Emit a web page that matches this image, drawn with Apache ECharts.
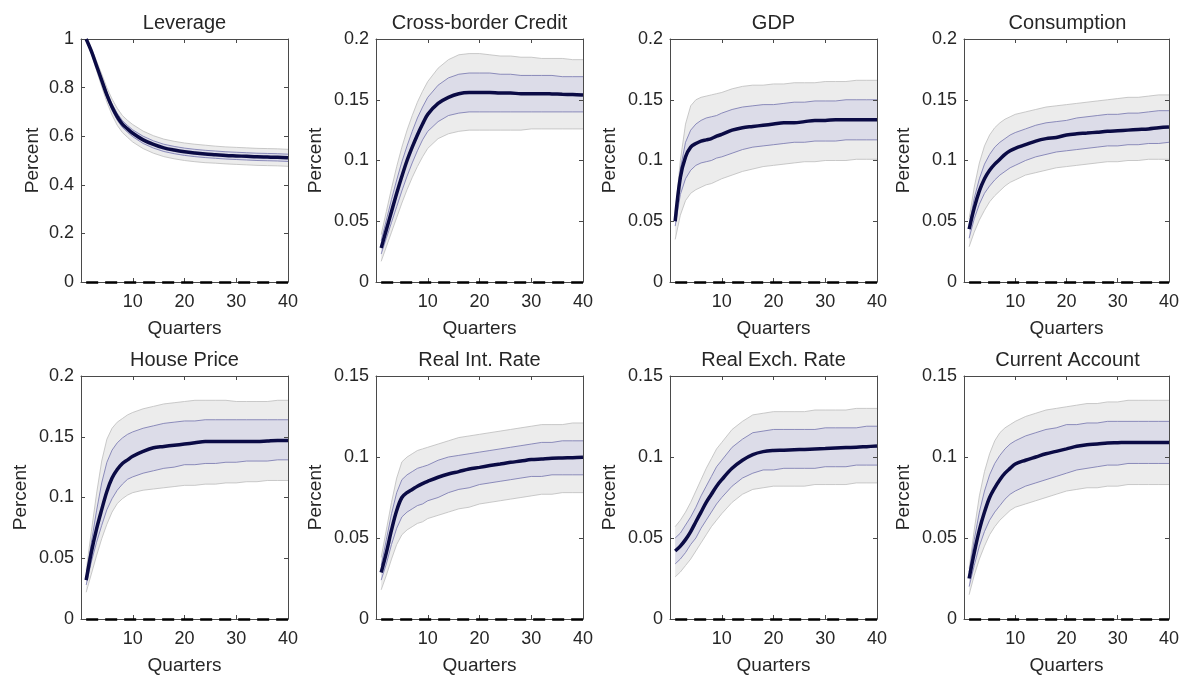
<!DOCTYPE html>
<html>
<head>
<meta charset="utf-8">
<title>Impulse responses</title>
<script src="https://cdn.jsdelivr.net/npm/echarts@6/dist/echarts.min.js"></script>
<style>
  html, body { margin: 0; padding: 0; background: #fff; }
  #main { width: 1182px; height: 679px; }
</style>
</head>
<body>
<div id="main"></div>
<script>
// horizon (quarters) at which the responses were read
var quarters = [1, 2, 3, 4, 5, 6, 7, 8, 9, 10, 12, 14, 16, 18, 20, 22, 24, 26, 28, 30, 32, 34, 36, 38, 40];

var titles = ['Leverage', 'Cross-border Credit', 'GDP', 'Consumption',
              'House Price', 'Real Int. Rate', 'Real Exch. Rate', 'Current Account'];
var yMax = [1, 0.2, 0.2, 0.2, 0.2, 0.15, 0.15, 0.15];
var yStep = [0.2, 0.05, 0.05, 0.05, 0.05, 0.05, 0.05, 0.05];
var xTicks = [0, 10, 20, 30, 40];

// Leverage
var levMed = [1.000, 0.950, 0.890, 0.830, 0.770, 0.720, 0.680, 0.650, 0.630, 0.612, 0.585, 0.566, 0.552, 0.543, 0.536, 0.531, 0.527, 0.524, 0.521, 0.519, 0.517, 0.515, 0.514, 0.513, 0.511];
var levOutHi = [1.000, 0.962, 0.910, 0.856, 0.800, 0.753, 0.715, 0.685, 0.665, 0.648, 0.621, 0.602, 0.588, 0.579, 0.572, 0.567, 0.563, 0.559, 0.556, 0.554, 0.552, 0.550, 0.549, 0.548, 0.546];
var levOutLo = [0.995, 0.938, 0.870, 0.804, 0.740, 0.687, 0.645, 0.615, 0.595, 0.576, 0.549, 0.530, 0.516, 0.507, 0.500, 0.495, 0.491, 0.489, 0.486, 0.484, 0.482, 0.480, 0.479, 0.478, 0.476];
var levInHi = [1.000, 0.955, 0.898, 0.840, 0.782, 0.733, 0.694, 0.664, 0.644, 0.626, 0.600, 0.581, 0.567, 0.558, 0.551, 0.546, 0.542, 0.539, 0.536, 0.534, 0.532, 0.530, 0.529, 0.528, 0.526];
var levInLo = [0.998, 0.945, 0.882, 0.820, 0.758, 0.707, 0.666, 0.636, 0.616, 0.598, 0.570, 0.551, 0.537, 0.528, 0.521, 0.516, 0.512, 0.509, 0.506, 0.504, 0.502, 0.500, 0.499, 0.498, 0.496];

// Cross-border Credit
var cbcMed = [0.028, 0.043, 0.058, 0.073, 0.087, 0.100, 0.111, 0.121, 0.130, 0.138, 0.147, 0.152, 0.155, 0.156, 0.156, 0.156, 0.1555, 0.1555, 0.155, 0.155, 0.155, 0.1548, 0.1545, 0.1543, 0.154];
var cbcOutHi = [0.039, 0.058, 0.077, 0.095, 0.111, 0.125, 0.137, 0.148, 0.157, 0.165, 0.176, 0.183, 0.187, 0.188, 0.188, 0.187, 0.186, 0.186, 0.185, 0.185, 0.184, 0.184, 0.184, 0.183, 0.183];
var cbcOutLo = [0.017, 0.029, 0.041, 0.053, 0.065, 0.076, 0.086, 0.095, 0.103, 0.110, 0.118, 0.122, 0.124, 0.125, 0.125, 0.125, 0.125, 0.125, 0.125, 0.126, 0.126, 0.126, 0.126, 0.126, 0.126];
var cbcInHi = [0.034, 0.051, 0.068, 0.084, 0.099, 0.112, 0.124, 0.135, 0.144, 0.152, 0.162, 0.168, 0.171, 0.172, 0.172, 0.172, 0.171, 0.171, 0.170, 0.170, 0.170, 0.170, 0.169, 0.169, 0.169];
var cbcInLo = [0.023, 0.036, 0.049, 0.062, 0.075, 0.087, 0.098, 0.108, 0.117, 0.124, 0.132, 0.137, 0.139, 0.140, 0.140, 0.140, 0.140, 0.140, 0.140, 0.140, 0.140, 0.140, 0.140, 0.140, 0.140];

// GDP
var gdpMed = [0.050, 0.086, 0.103, 0.111, 0.114, 0.116, 0.117, 0.118, 0.120, 0.1215, 0.125, 0.127, 0.128, 0.129, 0.130, 0.131, 0.131, 0.132, 0.133, 0.133, 0.1335, 0.1335, 0.1336, 0.1336, 0.1336];
var gdpOutHi = [0.057, 0.100, 0.130, 0.145, 0.150, 0.152, 0.153, 0.154, 0.155, 0.156, 0.159, 0.161, 0.162, 0.162, 0.163, 0.163, 0.164, 0.164, 0.164, 0.165, 0.165, 0.165, 0.166, 0.166, 0.166];
var gdpOutLo = [0.035, 0.055, 0.067, 0.073, 0.076, 0.078, 0.080, 0.081, 0.083, 0.085, 0.088, 0.091, 0.093, 0.095, 0.096, 0.097, 0.098, 0.099, 0.099, 0.100, 0.100, 0.100, 0.101, 0.101, 0.101];
var gdpInHi = [0.053, 0.093, 0.115, 0.125, 0.130, 0.133, 0.135, 0.136, 0.137, 0.139, 0.142, 0.144, 0.145, 0.146, 0.146, 0.147, 0.148, 0.148, 0.149, 0.149, 0.149, 0.150, 0.150, 0.150, 0.150];
var gdpInLo = [0.046, 0.072, 0.085, 0.092, 0.096, 0.098, 0.099, 0.100, 0.102, 0.103, 0.106, 0.109, 0.111, 0.112, 0.113, 0.114, 0.115, 0.115, 0.116, 0.116, 0.116, 0.117, 0.117, 0.117, 0.117];

// Consumption
var conMed = [0.0435, 0.061, 0.075, 0.085, 0.092, 0.097, 0.101, 0.105, 0.108, 0.110, 0.113, 0.116, 0.118, 0.119, 0.121, 0.122, 0.1226, 0.1233, 0.124, 0.1245, 0.125, 0.1255, 0.126, 0.127, 0.1275];
var conOutHi = [0.052, 0.078, 0.098, 0.112, 0.121, 0.127, 0.131, 0.134, 0.136, 0.138, 0.140, 0.142, 0.144, 0.145, 0.146, 0.147, 0.148, 0.149, 0.150, 0.151, 0.152, 0.152, 0.153, 0.154, 0.154];
var conOutLo = [0.029, 0.041, 0.051, 0.059, 0.066, 0.071, 0.075, 0.079, 0.082, 0.084, 0.088, 0.090, 0.092, 0.094, 0.095, 0.096, 0.097, 0.098, 0.099, 0.099, 0.100, 0.100, 0.101, 0.101, 0.101];
var conInHi = [0.047, 0.069, 0.085, 0.097, 0.105, 0.111, 0.115, 0.118, 0.121, 0.123, 0.126, 0.129, 0.131, 0.132, 0.133, 0.135, 0.136, 0.137, 0.138, 0.138, 0.139, 0.139, 0.140, 0.141, 0.141];
var conInLo = [0.036, 0.052, 0.064, 0.073, 0.079, 0.084, 0.088, 0.091, 0.094, 0.096, 0.100, 0.103, 0.105, 0.107, 0.108, 0.109, 0.110, 0.111, 0.112, 0.112, 0.113, 0.113, 0.114, 0.114, 0.115];

// House Price
var hpMed = [0.032, 0.055, 0.074, 0.090, 0.105, 0.116, 0.123, 0.128, 0.131, 0.134, 0.138, 0.141, 0.142, 0.143, 0.144, 0.145, 0.146, 0.146, 0.146, 0.146, 0.146, 0.146, 0.1465, 0.147, 0.147];
var hpOutHi = [0.040, 0.072, 0.103, 0.130, 0.148, 0.157, 0.162, 0.165, 0.168, 0.170, 0.173, 0.175, 0.177, 0.178, 0.179, 0.180, 0.180, 0.180, 0.180, 0.179, 0.179, 0.179, 0.179, 0.180, 0.180];
var hpOutLo = [0.022, 0.037, 0.052, 0.066, 0.078, 0.088, 0.095, 0.099, 0.102, 0.104, 0.106, 0.107, 0.108, 0.109, 0.110, 0.110, 0.111, 0.111, 0.112, 0.112, 0.113, 0.113, 0.114, 0.114, 0.114];
var hpInHi = [0.035, 0.063, 0.089, 0.112, 0.129, 0.139, 0.145, 0.149, 0.152, 0.154, 0.157, 0.159, 0.161, 0.162, 0.163, 0.163, 0.164, 0.164, 0.164, 0.164, 0.164, 0.164, 0.164, 0.164, 0.164];
var hpInLo = [0.028, 0.047, 0.063, 0.077, 0.090, 0.099, 0.106, 0.111, 0.115, 0.117, 0.120, 0.122, 0.124, 0.125, 0.127, 0.127, 0.128, 0.128, 0.129, 0.129, 0.130, 0.130, 0.130, 0.131, 0.131];

// Real Int. Rate
var rirMed = [0.0287, 0.041, 0.055, 0.067, 0.075, 0.078, 0.080, 0.082, 0.0836, 0.085, 0.0875, 0.0895, 0.091, 0.0926, 0.0936, 0.0947, 0.0957, 0.0967, 0.0975, 0.0984, 0.0988, 0.0992, 0.0994, 0.0996, 0.0998];
var rirOutHi = [0.038, 0.055, 0.072, 0.087, 0.097, 0.100, 0.102, 0.104, 0.105, 0.106, 0.108, 0.110, 0.112, 0.113, 0.114, 0.115, 0.116, 0.117, 0.118, 0.119, 0.120, 0.120, 0.120, 0.121, 0.121];
var rirOutLo = [0.018, 0.027, 0.037, 0.046, 0.052, 0.055, 0.057, 0.059, 0.060, 0.062, 0.064, 0.066, 0.068, 0.069, 0.071, 0.072, 0.073, 0.074, 0.075, 0.076, 0.077, 0.077, 0.078, 0.078, 0.078];
var rirInHi = [0.033, 0.049, 0.065, 0.078, 0.086, 0.089, 0.091, 0.093, 0.094, 0.095, 0.098, 0.100, 0.101, 0.102, 0.103, 0.104, 0.105, 0.106, 0.107, 0.108, 0.109, 0.109, 0.110, 0.110, 0.110];
var rirInLo = [0.024, 0.034, 0.046, 0.056, 0.063, 0.066, 0.068, 0.070, 0.071, 0.073, 0.075, 0.078, 0.080, 0.081, 0.083, 0.084, 0.085, 0.086, 0.087, 0.088, 0.088, 0.089, 0.089, 0.089, 0.089];

// Real Exch. Rate
var rerMed = [0.042, 0.045, 0.049, 0.054, 0.060, 0.066, 0.072, 0.077, 0.082, 0.086, 0.093, 0.098, 0.1015, 0.1033, 0.104, 0.1042, 0.1045, 0.1047, 0.105, 0.1052, 0.1055, 0.1058, 0.106, 0.1064, 0.1068];
var rerOutHi = [0.057, 0.061, 0.066, 0.072, 0.079, 0.086, 0.093, 0.099, 0.105, 0.109, 0.117, 0.122, 0.126, 0.127, 0.128, 0.128, 0.128, 0.128, 0.129, 0.129, 0.129, 0.129, 0.130, 0.130, 0.130];
var rerOutLo = [0.026, 0.029, 0.033, 0.037, 0.042, 0.047, 0.052, 0.057, 0.061, 0.065, 0.072, 0.077, 0.080, 0.081, 0.082, 0.082, 0.082, 0.082, 0.083, 0.083, 0.083, 0.083, 0.084, 0.084, 0.084];
var rerInHi = [0.050, 0.053, 0.058, 0.063, 0.069, 0.076, 0.082, 0.088, 0.094, 0.098, 0.106, 0.111, 0.115, 0.116, 0.117, 0.117, 0.117, 0.117, 0.117, 0.118, 0.118, 0.118, 0.118, 0.119, 0.119];
var rerInLo = [0.034, 0.037, 0.041, 0.046, 0.050, 0.056, 0.061, 0.066, 0.071, 0.075, 0.082, 0.087, 0.090, 0.092, 0.092, 0.093, 0.093, 0.093, 0.093, 0.094, 0.094, 0.094, 0.095, 0.095, 0.095];

// Current Account
var caMed = [0.025, 0.041, 0.055, 0.066, 0.075, 0.081, 0.086, 0.090, 0.093, 0.0957, 0.098, 0.100, 0.102, 0.1035, 0.105, 0.1066, 0.1076, 0.108, 0.1086, 0.1088, 0.109, 0.109, 0.109, 0.109, 0.109];
var caOutHi = [0.031, 0.055, 0.076, 0.091, 0.102, 0.110, 0.115, 0.118, 0.120, 0.122, 0.125, 0.127, 0.129, 0.130, 0.131, 0.132, 0.133, 0.133, 0.134, 0.134, 0.135, 0.135, 0.135, 0.135, 0.135];
var caOutLo = [0.015, 0.027, 0.037, 0.045, 0.052, 0.057, 0.061, 0.064, 0.067, 0.069, 0.071, 0.073, 0.075, 0.077, 0.079, 0.080, 0.081, 0.081, 0.082, 0.082, 0.083, 0.083, 0.083, 0.083, 0.083];
var caInHi = [0.029, 0.049, 0.066, 0.079, 0.089, 0.096, 0.101, 0.105, 0.108, 0.110, 0.113, 0.115, 0.117, 0.118, 0.120, 0.120, 0.121, 0.121, 0.122, 0.122, 0.122, 0.122, 0.122, 0.122, 0.122];
var caInLo = [0.020, 0.033, 0.045, 0.054, 0.061, 0.066, 0.070, 0.074, 0.077, 0.079, 0.082, 0.084, 0.086, 0.088, 0.090, 0.092, 0.093, 0.094, 0.095, 0.095, 0.096, 0.096, 0.096, 0.096, 0.096];

var panels = [
    { med: levMed, outHi: levOutHi, outLo: levOutLo, inHi: levInHi, inLo: levInLo },
    { med: cbcMed, outHi: cbcOutHi, outLo: cbcOutLo, inHi: cbcInHi, inLo: cbcInLo },
    { med: gdpMed, outHi: gdpOutHi, outLo: gdpOutLo, inHi: gdpInHi, inLo: gdpInLo },
    { med: conMed, outHi: conOutHi, outLo: conOutLo, inHi: conInHi, inLo: conInLo },
    { med: hpMed, outHi: hpOutHi, outLo: hpOutLo, inHi: hpInHi, inLo: hpInLo },
    { med: rirMed, outHi: rirOutHi, outLo: rirOutLo, inHi: rirInHi, inLo: rirInLo },
    { med: rerMed, outHi: rerOutHi, outLo: rerOutLo, inHi: rerInHi, inLo: rerInLo },
    { med: caMed, outHi: caOutHi, outLo: caOutLo, inHi: caInHi, inLo: caInLo }
];

var FONT = '"Liberation Sans", Arial, Helvetica, sans-serif';
var TXT = '#262626';
var AXIS = '#4a4a4a';

// plot boxes
var colLeft = [81, 376, 670, 964];
var rowTop = [39, 376];
var boxW = 207, boxH = 243;
var yNameGap = [39, 51, 51, 51, 51, 51, 51, 51];

function pairs(arr) {
    return quarters.map(function (q, i) { return [q, arr[i]]; });
}
function tick() {
    return { show: true, inside: true, length: 4, lineStyle: { color: AXIS, width: 1 } };
}
function axisLine() {
    return { show: true, onZero: false, lineStyle: { color: AXIS, width: 1 } };
}

// one polygon for a whole band, edges drawn as thin lines
function bandRenderer(lo, hi, fill, edge) {
    return function (params, api) {
        if (params.dataIndex !== 0) return null;
        var upper = [], lower = [];
        for (var i = 0; i < quarters.length; i++) {
            upper.push(api.coord([quarters[i], hi[i]]));
            lower.push(api.coord([quarters[i], lo[i]]));
        }
        return {
            type: 'group',
            children: [
                { type: 'polygon', shape: { points: upper.concat(lower.slice().reverse()) },
                  style: { fill: fill, stroke: null } },
                { type: 'polyline', shape: { points: upper },
                  style: { fill: null, stroke: edge, lineWidth: 0.8 } },
                { type: 'polyline', shape: { points: lower },
                  style: { fill: null, stroke: edge, lineWidth: 0.8 } }
            ]
        };
    };
}

function bandSeries(p, lo, hi, fill, edge, z) {
    return {
        type: 'custom', coordinateSystem: 'cartesian2d',
        xAxisIndex: 2 * p, yAxisIndex: 2 * p, silent: true, clip: true, z: z,
        data: quarters.map(function (q, i) { return [q, lo[i], hi[i]]; }),
        encode: { x: 0, y: [1, 2] },
        renderItem: bandRenderer(lo, hi, fill, edge)
    };
}

function buildOption() {
    var grids = [], xAxes = [], yAxes = [], series = [], titleList = [];

    for (var p = 0; p < panels.length; p++) {
        var d = panels[p];
        var gx = colLeft[p % 4];
        var gy = rowTop[Math.floor(p / 4)];

        grids.push({ left: gx, top: gy, width: boxW, height: boxH });

        titleList.push({
            text: titles[p],
            left: gx + boxW / 2,
            top: gy - 26,
            textAlign: 'center',
            padding: 0,
            textStyle: { fontFamily: FONT, fontSize: 20, fontWeight: 'normal', color: TXT }
        });

        xAxes.push({
            type: 'value', gridIndex: p, min: xTicks[0], max: xTicks[xTicks.length - 1], interval: 10,
            position: 'bottom', z: 3,
            axisLine: axisLine(), axisTick: tick(),
            splitLine: { show: false },
            axisLabel: {
                margin: 11, fontFamily: FONT, fontSize: 18, color: TXT,
                formatter: function (v) { return v === 0 ? '' : String(v); }
            },
            name: 'Quarters', nameLocation: 'middle', nameGap: 37,
            nameTextStyle: { fontFamily: FONT, fontSize: 19, color: TXT }
        });
        xAxes.push({
            type: 'value', gridIndex: p, min: 0, max: 40, interval: 10, position: 'top', z: 3,
            axisLine: axisLine(), axisTick: tick(),
            axisLabel: { show: false }, splitLine: { show: false }
        });

        yAxes.push({
            type: 'value', gridIndex: p, min: 0, max: yMax[p], interval: yStep[p],
            position: 'left', z: 3,
            axisLine: axisLine(), axisTick: tick(),
            splitLine: { show: false },
            axisLabel: { margin: 7, fontFamily: FONT, fontSize: 18, color: TXT },
            name: 'Percent', nameLocation: 'middle', nameGap: yNameGap[p], nameRotate: 90,
            nameTextStyle: { fontFamily: FONT, fontSize: 19, color: TXT }
        });
        yAxes.push({
            type: 'value', gridIndex: p, min: 0, max: yMax[p], interval: yStep[p],
            position: 'right', z: 3,
            axisLine: axisLine(), axisTick: tick(),
            axisLabel: { show: false }, splitLine: { show: false }
        });

        series.push(bandSeries(p, d.outLo, d.outHi, '#ececec', '#bdbdbd', 1));
        series.push(bandSeries(p, d.inLo, d.inHi, '#dcdce8', '#7474ad', 2));

        // median response, with the zero line
        series.push({
            type: 'line', xAxisIndex: 2 * p, yAxisIndex: 2 * p,
            symbol: 'none', smooth: 0.35, silent: true, clip: false, z: 10,
            data: pairs(d.med),
            lineStyle: { color: '#0b0b45', width: 3.5 },
            markLine: {
                silent: true, symbol: 'none', z: 12,
                label: { show: false },
                lineStyle: { color: '#000', width: 2.5, type: [12, 7], opacity: 1 },
                data: [[{ coord: [quarters[0], 0] }, { coord: [quarters[quarters.length - 1], 0] }]]
            }
        });
    }

    return {
        backgroundColor: '#ffffff',
        animation: false,
        title: titleList,
        grid: grids,
        xAxis: xAxes,
        yAxis: yAxes,
        series: series
    };
}

var myChart = echarts.init(document.getElementById('main'));
myChart.setOption(buildOption());
window.addEventListener('resize', function () {
    myChart.resize();
});
</script>
</body>
</html>
